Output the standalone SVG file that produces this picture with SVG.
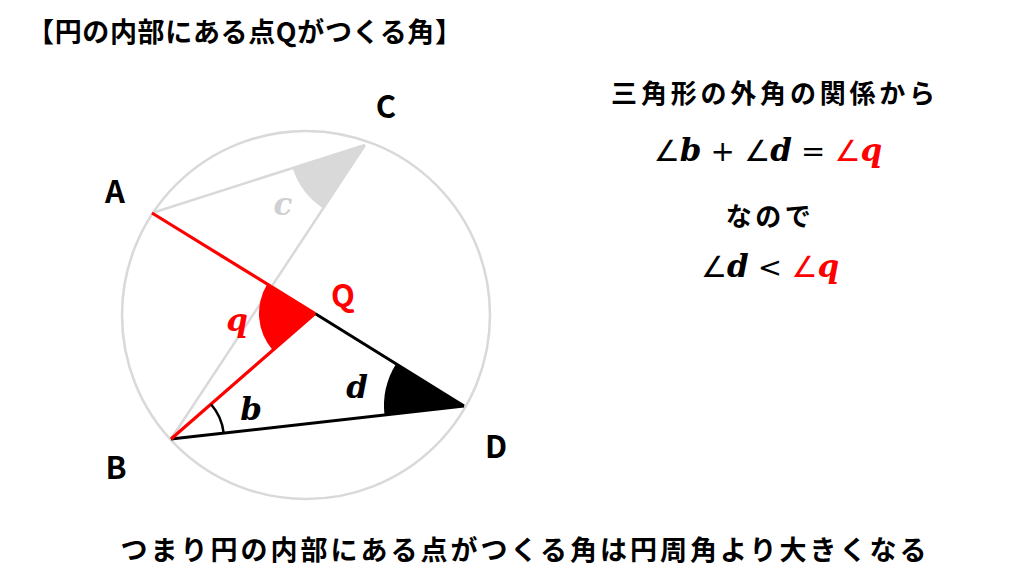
<svg xmlns="http://www.w3.org/2000/svg" width="1024" height="576" viewBox="0 0 1024 576">
<style>
.jp{font-family:"Noto Sans CJK JP","Noto Sans",sans-serif;font-weight:700;fill:#000}
.lbl{font-family:"Noto Sans CJK JP","Noto Sans",sans-serif;font-weight:700;font-size:31px;text-anchor:middle}
.mi{font-family:"DejaVu Serif","Liberation Serif",serif;font-style:italic;font-weight:700;font-size:31px;text-anchor:middle}
.sym{font-family:"DejaVu Sans","Liberation Serif",serif;font-style:normal;font-weight:400;font-size:29px}
.grey{stroke:#d9d9d9;stroke-width:2.5;fill:none}
.red{stroke:#ff0000;stroke-width:3.2;fill:none}
.blk{stroke:#000;stroke-width:3;fill:none}
</style>
<rect width="1024" height="576" fill="#fff"/>
<text class="jp" x="27" y="42" font-size="27" textLength="435" lengthAdjust="spacing">【円の内部にある点Qがつくる角】</text>
<g id="circle"><circle cx="306" cy="315" r="184" class="grey"/></g>
<g id="connectors">
<line x1="152" y1="213" x2="365" y2="145" class="grey"/>
<line x1="365" y1="145" x2="171" y2="439" class="grey"/>
<path d="M365,145 L292.6,168.1 A76,76 0 0 0 323.1,208.4 Z" fill="#d9d9d9"/>
<line x1="315" y1="313.5" x2="464" y2="406" class="blk"/>
<line x1="171" y1="439" x2="464" y2="406" class="blk"/>
<line x1="152" y1="213" x2="315" y2="313.5" class="red"/>
<line x1="171" y1="439" x2="315" y2="313.5" class="red"/>
<path d="M315,313.5 L267.3,284.1 A56,56 0 0 0 272.8,350.3 Z" fill="#ff0000"/>
<path d="M464,406 L396.0,363.9 A80,80 0 0 0 384.5,415.0 Z" fill="#000"/>
<path d="M211.0,404.2 A53,53 0 0 1 223.7,433.1" stroke="#000" stroke-width="2.5" fill="none"/>
</g>
<g id="A"><text class="lbl" x="115" y="203">A</text></g>
<g id="B"><text class="lbl" x="116" y="479">B</text></g>
<g id="C"><text class="lbl" x="386" y="118">C</text></g>
<g id="D"><text class="lbl" x="496" y="458">D</text></g>
<g id="Q"><text class="lbl" x="343" y="307" fill="#ff0000">Q</text></g>
<text class="mi" x="283" y="215" fill="#d0d0d0">c</text>
<text class="mi" x="237" y="331" fill="#ff0000">q</text>
<text class="mi" x="251" y="420" fill="#000">b</text>
<text class="mi" x="357" y="398" fill="#000">d</text>
<text class="jp" x="775" y="103" font-size="26" text-anchor="middle" letter-spacing="3.8">三角形の外角の関係から</text>
<text class="mi" x="768" y="161" font-size="33"><tspan class="sym">∠</tspan>b<tspan class="sym" font-size="27"> + ∠</tspan>d<tspan class="sym" font-size="27"> = </tspan><tspan class="sym" fill="#ff0000">∠</tspan><tspan fill="#ff0000">q</tspan></text>
<text class="jp" x="770" y="226" font-size="26" text-anchor="middle" letter-spacing="3.5">なので</text>
<text class="mi" x="770" y="277" font-size="33"><tspan class="sym">∠</tspan>d<tspan class="sym" font-size="27"> &lt; </tspan><tspan class="sym" fill="#ff0000">∠</tspan><tspan fill="#ff0000">q</tspan></text>
<text class="jp" x="525" y="560" font-size="27" text-anchor="middle" letter-spacing="3">つまり円の内部にある点がつくる角は円周角より大きくなる</text>
</svg>
